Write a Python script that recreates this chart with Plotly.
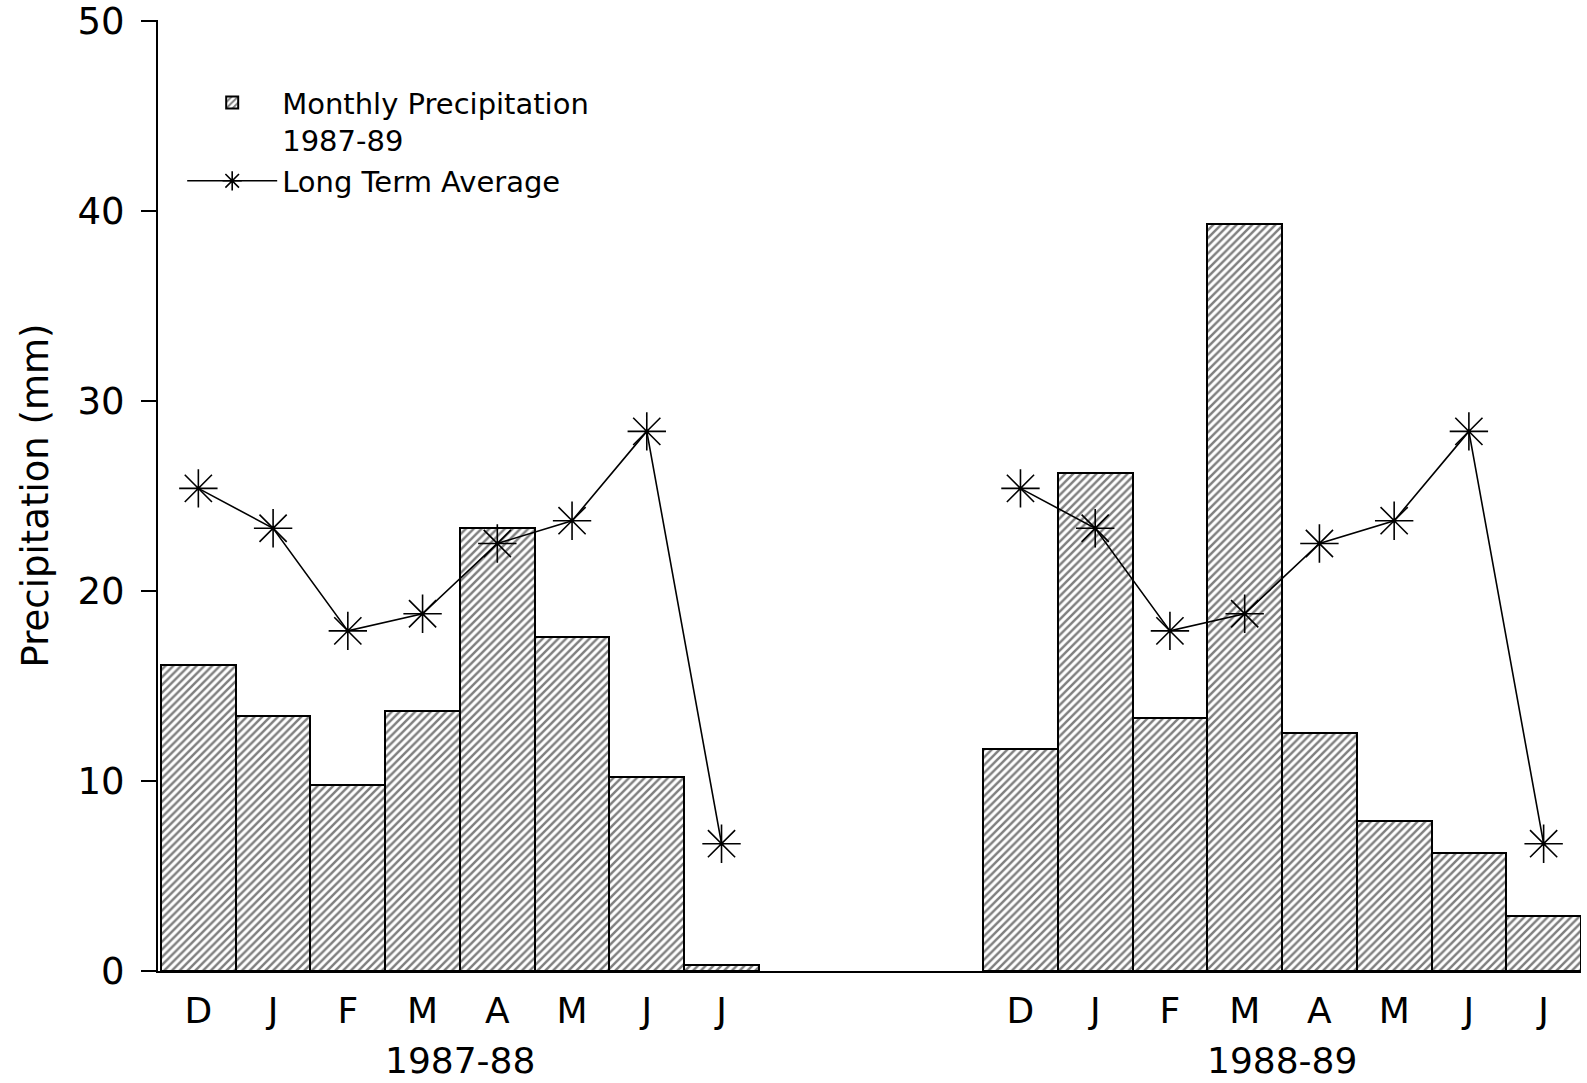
import plotly.graph_objects as go

# ---- data ----
months = ["D", "J", "F", "M", "A", "M", "J", "J"]
seasons = ["1987-88", "1988-89"]
precip_1987_88 = [16.1, 13.4, 9.8, 13.7, 23.3, 17.6, 10.2, 0.3]
precip_1988_89 = [11.7, 26.2, 13.3, 39.3, 12.5, 7.9, 6.2, 2.9]
long_term_avg = [25.4, 23.3, 17.9, 18.8, 22.5, 23.7, 28.4, 6.7]
y_ticks = [0, 10, 20, 30, 40, 50]

# ---- positions (two groups separated by a gap of 3 slots) ----
gap = 3
n = len(months)
x1 = list(range(n))
x2 = [i + n + gap for i in range(n)]

FONT = "DejaVu Sans"

fig = go.Figure()

fig.add_trace(go.Bar(
    x=x1 + x2,
    y=precip_1987_88 + precip_1988_89,
    width=1.0,
    name="Monthly Precipitation<br>1987-89",
    marker=dict(
        color="white",
        line=dict(color="black", width=2),
        pattern=dict(shape="/", size=5.5, solidity=0.45, fgcolor="black", bgcolor="white"),
    ),
))

fig.add_trace(go.Scatter(
    x=x1 + [None] + x2,
    y=long_term_avg + [None] + long_term_avg,
    mode="lines+markers",
    name="Long Term Average",
    connectgaps=False,
    line=dict(color="black", width=1.6),
    marker=dict(symbol="asterisk-open", size=32, color="black",
                line=dict(color="black", width=1.6)),
))

# group labels
for xs, label in zip([x1, x2], seasons):
    fig.add_annotation(
        x=(xs[0] + xs[-1]) / 2, y=0, xref="x", yref="paper",
        yshift=-89, yanchor="middle", showarrow=False,
        text=label, font=dict(family=FONT, size=36, color="black"),
    )

fig.update_layout(
    width=1587, height=1083,
    margin=dict(l=158, r=6, t=20, b=112),
    paper_bgcolor="white", plot_bgcolor="white",
    font=dict(family=FONT, color="black"),
    bargap=0,
    showlegend=True,
    legend=dict(
        x=0.017, y=0.94, xanchor="left", yanchor="top",
        font=dict(family=FONT, size=29, color="black"),
        bgcolor="rgba(0,0,0,0)", valign="top", tracegroupgap=0,
        itemwidth=90,
    ),
)

fig.update_xaxes(
    range=[-0.54, x2[-1] + 0.5],
    tickvals=x1 + x2,
    ticktext=months + months,
    tickfont=dict(family=FONT, size=36, color="black"),
    ticks="", showgrid=False, zeroline=False,
    showline=True, linecolor="black", linewidth=2,
    ticklabelstandoff=7,
    automargin=False,
)

fig.update_yaxes(
    range=[0, 50.05],
    tickvals=y_ticks,
    tickfont=dict(family=FONT, size=37, color="black"),
    ticks="outside", ticklen=15, tickwidth=2, tickcolor="black",
    showgrid=False, zeroline=False,
    showline=True, linecolor="black", linewidth=2,
    ticklabelstandoff=9,
    ticklabeloverflow="allow",
    automargin=False,
    title=dict(text="Precipitation (mm)", font=dict(family=FONT, size=37, color="black"), standoff=18),
)

fig.write_html("out.html")
